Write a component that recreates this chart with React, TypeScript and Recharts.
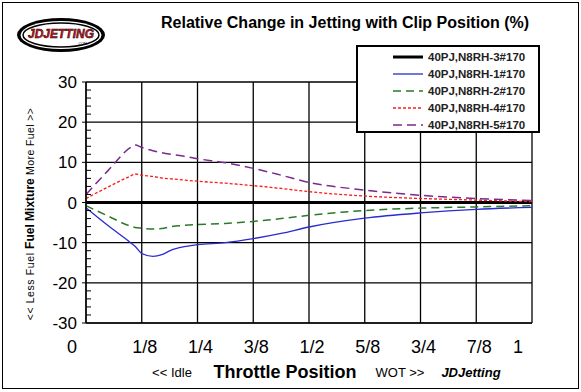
import React from "react";
import { LineChart, Line, XAxis, YAxis, CartesianGrid } from "recharts";

const THROTTLE = [0, 0.05, 0.1, 0.11, 0.125, 0.15, 0.17, 0.19, 0.22, 0.25, 0.3125, 0.375, 0.4375, 0.5, 0.625, 0.75, 0.875, 1];
const N8RH_3 = [0, 0, 0, 0, 0, 0, 0, 0, 0, 0, 0, 0, 0, 0, 0, 0, 0, 0];
const N8RH_1 = [-1.3, -5.8, -10.0, -10.9, -12.7, -13.4, -13.0, -11.9, -11.0, -10.5, -10.0, -9.0, -7.7, -6.1, -3.9, -2.6, -1.7, -1.2];
const N8RH_2 = [-0.8, -3.4, -5.9, -6.2, -6.4, -6.6, -6.5, -6.0, -5.7, -5.5, -5.2, -4.7, -4.0, -3.2, -2.0, -1.4, -1.1, -0.8];
const N8RH_4 = [1.0, 3.9, 6.6, 7.1, 6.8, 6.5, 6.1, 5.9, 5.6, 5.3, 4.8, 4.2, 3.5, 2.7, 1.6, 1.0, 0.6, 0.2];
const N8RH_5 = [2.0, 8.0, 13.7, 14.3, 13.7, 12.9, 12.4, 12.0, 11.5, 10.9, 9.9, 8.5, 6.8, 5.0, 3.1, 1.8, 1.0, 0.5];

const X_TICKS = [0, 0.125, 0.25, 0.375, 0.5, 0.625, 0.75, 0.875, 1];
const X_LABELS = ["0", "1/8", "1/4", "3/8", "1/2", "5/8", "3/4", "7/8", "1"];
const Y_TICKS = [-30, -28, -26, -24, -22, -20, -18, -16, -14, -12, -10, -8, -6, -4, -2, 0, 2, 4, 6, 8, 10, 12, 14, 16, 18, 20, 22, 24, 26, 28, 30];
const Y_GRID = [-30, -20, -10, 10, 20, 30];

const SERIES = [
  { key: "s3", name: "40PJ,N8RH-3#170", values: N8RH_3, color: "#000000", width: 3, dash: undefined },
  { key: "s1", name: "40PJ,N8RH-1#170", values: N8RH_1, color: "#2b2bd0", width: 1.3, dash: undefined },
  { key: "s2", name: "40PJ,N8RH-2#170", values: N8RH_2, color: "#2a7a2a", width: 1.5, dash: "8 5" },
  { key: "s4", name: "40PJ,N8RH-4#170", values: N8RH_4, color: "#ff1a1a", width: 1.3, dash: "3 2" },
  { key: "s5", name: "40PJ,N8RH-5#170", values: N8RH_5, color: "#7a2a8f", width: 1.5, dash: "9 5" },
];

const data = THROTTLE.map((t, i) => {
  const row: Record<string, number> = { t };
  for (const s of SERIES) row[s.key] = s.values[i];
  return row;
});

const FONT = "Arial, 'Liberation Sans', sans-serif";

function XTick(props: any) {
  const { x, y, payload } = props;
  const idx = X_TICKS.indexOf(payload.value);
  const shift = idx === 0 || idx === X_TICKS.length - 1 ? -14 : 3;
  return (
    <text x={x + shift} y={y + 22} textAnchor="middle" fontSize={18} fontFamily={FONT} fill="#000">
      {X_LABELS[idx]}
    </text>
  );
}

function YTick(props: any) {
  const { y, payload } = props;
  const v = payload.value;
  const major = v % 10 === 0;
  const ax = 86;
  if (!major) return <line x1={ax} x2={ax + 5} y1={y} y2={y} stroke="#000" strokeWidth={1} />;
  return (
    <g>
      <line x1={ax - 4} x2={ax} y1={y} y2={y} stroke="#000" strokeWidth={1} />
      <text x={ax - 9} y={y + 6} textAnchor="end" fontSize={17} fontFamily={FONT} fill="#000">
        {v}
      </text>
    </g>
  );
}

function LegendBox() {
  return (
    <div
      style={{
        position: "absolute",
        left: 356,
        top: 45,
        width: 180,
        height: 82,
        border: "2px solid #000",
        background: "#fff",
        paddingTop: 2,
      }}
    >
      {SERIES.map((s) => (
        <div key={s.key} style={{ display: "flex", alignItems: "center", height: 16.8 }}>
          <svg width={70} height={10}>
            <line x1={35} x2={65} y1={5} y2={5} stroke={s.color} strokeWidth={s.key === "s3" ? 3 : 1.3} strokeDasharray={s.dash} />
          </svg>
          <span style={{ fontFamily: FONT, fontSize: 11.5, fontWeight: 600, color: "#222" }}>{s.name}</span>
        </div>
      ))}
    </div>
  );
}

export default function App() {
  return (
    <div style={{ position: "absolute", left: 0, top: 0, width: 581, height: 392, background: "#fff", fontFamily: FONT }}>
      <div style={{ position: "absolute", left: 2, top: 2, width: 575, height: 385, border: "1.5px solid #000" }} />
      <div style={{ position: "absolute", left: 0, top: 0 }}>
        <LineChart width={581} height={392} data={data} margin={{ top: 82, right: 49, left: 0, bottom: 0 }}>
          <CartesianGrid stroke="#000" strokeWidth={1.3} horizontalValues={Y_GRID} verticalValues={X_TICKS} />
          <XAxis
            dataKey="t"
            type="number"
            domain={[0, 1]}
            ticks={X_TICKS}
            tick={<XTick />}
            tickLine={false}
            axisLine={{ stroke: "#000" }}
            height={69}
            interval={0}
          />
          <YAxis
            type="number"
            domain={[-30, 30]}
            ticks={Y_TICKS}
            tick={<YTick />}
            tickLine={false}
            axisLine={{ stroke: "#000", strokeWidth: 1.3 }}
            width={86}
            interval={0}
          />
          {SERIES.map((s) => (
            <Line
              key={s.key}
              type="monotone"
              dataKey={s.key}
              name={s.name}
              stroke={s.color}
              strokeWidth={s.width}
              strokeDasharray={s.dash}
              dot={false}
              isAnimationActive={false}
            />
          ))}
        </LineChart>
      </div>
      <LegendBox />
      <svg width={581} height={392} style={{ position: "absolute", left: 0, top: 0, pointerEvents: "none" }}>
        <g>
          <ellipse cx={61} cy={35} rx={44} ry={17} fill="#000" />
          <ellipse cx={61} cy={35} rx={40.5} ry={14} fill="#fff" />
          <ellipse cx={61} cy={35} rx={38} ry={12} fill="none" stroke="#000" strokeWidth={1.5} />
          <text x={61} y={38} textAnchor="middle" fontSize={12} fontWeight="bold" fontStyle="italic" fontFamily={FONT} fill="#e0141e" stroke="#000" strokeWidth={0.5}>
            JDJETTING
          </text>
          <text x={82} y={45} textAnchor="middle" fontSize={3.5} fontFamily={FONT} fill="#000">
            .COM
          </text>
        </g>
        <text x={345} y={28} textAnchor="middle" fontSize={16} fontWeight="bold" fontFamily={FONT} fill="#000">
          Relative Change in Jetting with Clip Position (%)
        </text>
        <text transform="translate(34,214) rotate(-90)" textAnchor="middle" fontFamily={FONT} fill="#000">
          <tspan fontSize={10.5} letterSpacing={0.6}>{"<< Less Fuel "}</tspan>
          <tspan fontSize={12} fontWeight="bold">{" Fuel Mixture "}</tspan>
          <tspan fontSize={10.5} letterSpacing={0.4}>{" More Fuel >>"}</tspan>
        </text>
        <text x={172} y={377} textAnchor="middle" fontSize={13} fontFamily={FONT} fill="#000">
          {"<< Idle"}
        </text>
        <text x={285} y={378} textAnchor="middle" fontSize={18} fontWeight="bold" fontFamily={FONT} fill="#000">
          Throttle Position
        </text>
        <text x={400} y={377} textAnchor="middle" fontSize={13} fontFamily={FONT} fill="#000">
          {"WOT >>"}
        </text>
        <text x={471} y={377} textAnchor="middle" fontSize={13} fontWeight="bold" fontStyle="italic" fontFamily={FONT} fill="#000">
          JDJetting
        </text>
      </svg>
    </div>
  );
}
